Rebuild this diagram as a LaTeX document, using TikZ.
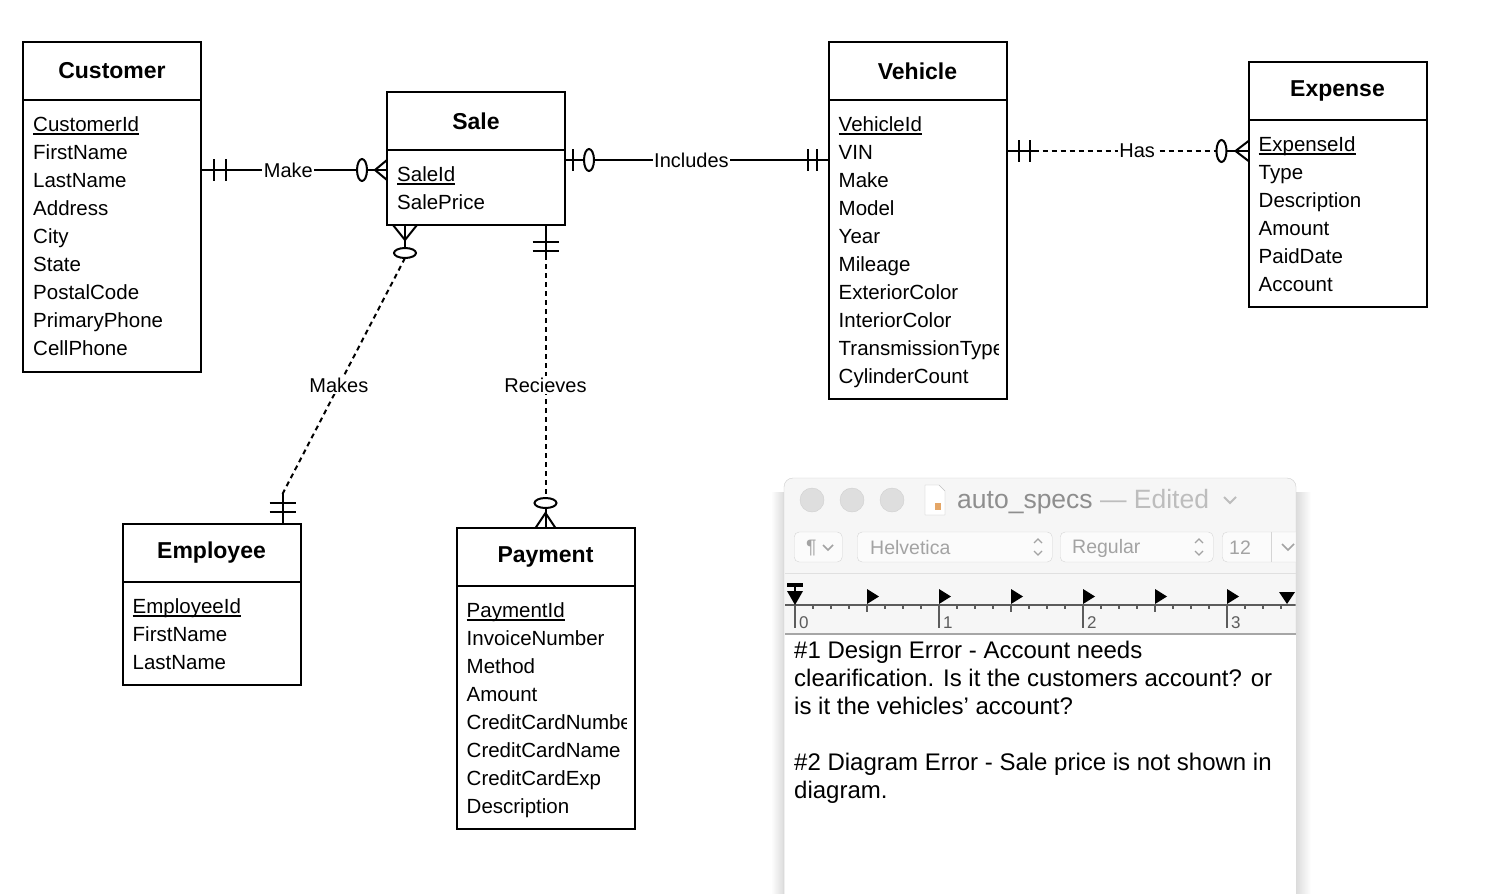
\documentclass[tikz,border=0pt]{standalone}
\usepackage{fontspec}
\setmainfont{Liberation Sans}
\usetikzlibrary{calc,positioning}

\definecolor{winbg}{HTML}{F6F6F6}
\definecolor{winedge}{HTML}{CDCDCD}
\definecolor{lightbtn}{HTML}{DEDEDE}
\definecolor{lightbtnedge}{HTML}{CFCFCF}
\definecolor{titlegray}{HTML}{8E8E8E}
\definecolor{editgray}{HTML}{BDBDBD}
\definecolor{tbgray}{HTML}{A3A3A3}
\definecolor{tbedge}{HTML}{D5D5D5}
\definecolor{rulergray}{HTML}{5C5C5C}

% primary key: underlined attribute
\newcommand\pkey[1]{\setbox0\hbox{#1}\rlap{\rule[-3pt]{\wd0}{1.5pt}}\box0}

\begin{document}
\begin{tikzpicture}[x=1pt, y=-1pt,
    ettl/.style={draw, line width=2pt, outer sep=0pt, minimum width=178pt, minimum height=58pt, inner sep=0pt, font=\fontsize{23}{27}\selectfont\bfseries},
    ebdy/.style={draw, line width=2pt, outer sep=0pt, minimum width=178pt, inner sep=0pt, anchor=north},
    attr/.style={anchor=north west, align=left, inner sep=0pt, font=\fontsize{20.5}{28}\selectfont},
    rel/.style={line width=2pt},
    reldash/.style={line width=2pt, dash pattern=on 5pt off 4pt},
    lbl/.style={fill=white, inner sep=1.5pt, font=\fontsize{20}{24}\selectfont},
    opt/.style={line width=2pt, fill=white},
    tlight/.style={circle, draw=lightbtnedge, fill=lightbtn, minimum size=24pt, inner sep=0pt},
    tbox/.style={draw=tbedge, fill=white!60!winbg, rounded corners=5pt, minimum height=30pt, inner sep=0pt, anchor=west},
    tbtxt/.style={text=tbgray, font=\fontsize{19.5}{22}\selectfont, inner sep=0pt, anchor=west}
]
\useasboundingbox (0,0) rectangle (1510,894);
\fill[white] (0,0) rectangle (1510,894);

% entities
\node[ettl] (cust) at (112,71) {Customer};
\node[ebdy, minimum height=272pt] (custb) at (cust.south) {};
\node[attr] (custa) at ($(custb.north west)+(10,12)$) {\strut\pkey{CustomerId}\\FirstName\\LastName\\Address\\City\\State\\PostalCode\\PrimaryPhone\\CellPhone};

\node[ettl] (sale) at (476,121) {Sale};
\node[ebdy, minimum height=75pt] (saleb) at (sale.south) {};
\node[attr] (salea) at ($(saleb.north west)+(10,12)$) {\strut\pkey{SaleId}\\SalePrice};

\node[ettl] (veh) at (917.5,71) {Vehicle};
\node[ebdy, minimum height=299pt] (vehb) at (veh.south) {};
\begin{scope}
  \clip ($(vehb.north west)+(2,2)$) rectangle ($(vehb.south east)+(-8,-2)$);
  \node[attr] (veha) at ($(vehb.north west)+(10,12)$) {\strut\pkey{VehicleId}\\VIN\\Make\\Model\\Year\\Mileage\\ExteriorColor\\InteriorColor\\TransmissionType\\CylinderCount};
\end{scope}

\node[ettl] (exp) at (1337.5,91) {Expense};
\node[ebdy, minimum height=187pt] (expb) at (exp.south) {};
\node[attr] (expa) at ($(expb.north west)+(10,12)$) {\strut\pkey{ExpenseId}\\Type\\Description\\Amount\\PaidDate\\Account};

\node[ettl] (emp) at (211.5,553) {Employee};
\node[ebdy, minimum height=103pt] (empb) at (emp.south) {};
\node[attr] (empa) at ($(empb.north west)+(10,12)$) {\strut\pkey{EmployeeId}\\FirstName\\LastName};

\node[ettl] (pay) at (545.5,557) {Payment};
\node[ebdy, minimum height=243pt] (payb) at (pay.south) {};
\begin{scope}
  \clip ($(payb.north west)+(2,2)$) rectangle ($(payb.south east)+(-8,-2)$);
  \node[attr] (paya) at ($(payb.north west)+(10,12)$) {\strut\pkey{PaymentId}\\InvoiceNumber\\Method\\Amount\\CreditCardNumber\\CreditCardName\\CreditCardExp\\Description};
\end{scope}

% Customer - Sale
\coordinate (mkA) at (custb.east |- 0,170);
\coordinate (mkB) at (saleb.west |- 0,170);
\draw[rel] (mkA) -- node[lbl, pos=0.47] {Make} (mkB);
\draw[rel] ($(mkA)+(13,-11)$) -- ++(0,22) ($(mkA)+(25,-11)$) -- ++(0,22);
\draw[opt] ($(mkB)+(-25,0)$) ellipse [x radius=5, y radius=11];
\draw[rel] ($(mkB)+(0,-10)$) -- ($(mkB)+(-12,0)$) -- ($(mkB)+(0,10)$);

% Sale - Vehicle
\coordinate (inA) at (saleb.east |- 0,160);
\coordinate (inB) at (vehb.west |- 0,160);
\draw[rel] (inA) -- node[lbl, pos=0.48] {Includes} (inB);
\draw[rel] ($(inA)+(8,-11)$) -- ++(0,22);
\draw[opt] ($(inA)+(24,0)$) ellipse [x radius=5, y radius=11];
\draw[rel] ($(inB)+(-21,-11)$) -- ++(0,22) ($(inB)+(-12,-11)$) -- ++(0,22);

% Vehicle - Expense
\coordinate (hsA) at (vehb.east |- 0,151);
\coordinate (hsB) at (expb.west |- 0,151);
\draw[reldash] (hsA) -- node[lbl, pos=0.54] {Has} (hsB);
\draw[rel] (hsA) -- ++(30,0) (hsB) -- ++(-32,0);
\draw[rel] ($(hsA)+(12,-11)$) -- ++(0,22) ($(hsA)+(23,-11)$) -- ++(0,22);
\draw[opt] ($(hsB)+(-27,0)$) ellipse [x radius=5, y radius=11];
\draw[rel] ($(hsB)+(0,-10)$) -- ($(hsB)+(-13,0)$) -- ($(hsB)+(0,10)$);

% Sale - Employee
\coordinate (mksA) at ($(saleb.south west)+(18,0)$);
\coordinate (mksB) at ($(emp.north west)+(160,0)$);
\draw[rel] (mksA) -- ++(0,28);
\draw[reldash] ($(mksA)+(0,33)$) -- node[lbl, pos=0.54] {Makes} ($(mksB)+(0,-30)$);
\draw[rel] (mksB) -- ++(0,-30);
\draw[rel] ($(mksA)+(-12,0)$) -- ($(mksA)+(0,15)$) -- ($(mksA)+(12,0)$);
\draw[opt] ($(mksA)+(0,28)$) ellipse [x radius=11, y radius=5];
\draw[rel] ($(mksB)+(-13,-21)$) -- ++(26,0) ($(mksB)+(-13,-12)$) -- ++(26,0);

% Sale - Payment
\coordinate (rcA) at (saleb.south -| pay.north);
\coordinate (rcB) at (pay.north);
\draw[reldash] ($(rcA)+(0,30)$) -- node[lbl, pos=0.535] {Recieves} ($(rcB)+(0,-30)$);
\draw[rel] (rcA) -- ++(0,34);
\draw[rel] ($(rcA)+(-13,17)$) -- ++(26,0) ($(rcA)+(-13,26)$) -- ++(26,0);
\draw[rel] (rcB) -- ++(0,-20);
\draw[opt] ($(rcB)+(0,-25)$) ellipse [x radius=11, y radius=5];
\draw[rel] ($(rcB)+(-10,0)$) -- ($(rcB)+(0,-15)$) -- ($(rcB)+(10,0)$);

% TextEdit window
\shade[left color=white, right color=black!14] (771,492) rectangle (784,900);
\shade[left color=black!14, right color=white] (1296,492) rectangle (1311,900);
\path[fill=winbg, draw=winedge, rounded corners=9pt] (784,900) -- (784,478) -- (1296,478) -- (1296,900);
\fill[white] (785,635) rectangle (1295.5,900);
\draw[black!35, line width=1.2pt] (785,634) -- (1295.5,634);
\draw[black!12] (785,573) -- (1295.5,573);

\node[tlight] (close) at (812,500) {};
\node[tlight] (mini) at (852,500) {};
\node[tlight] (full) at (892,500) {};
\draw[black!25, fill=white] (925,485) -- (939,485) -- (945,491) -- (945,515) -- (925,515) -- cycle;
\fill[brown!60!orange!70] (935,503) rectangle (941,510);
\node[anchor=west, inner sep=0pt, font=\fontsize{26.5}{30}\selectfont] (wtitle) at (957,502) {\color{titlegray}auto\_specs \color{editgray}— Edited};
\draw[editgray, line width=1.8pt] (1224,497) -- (1230,503) -- (1236,497);

\begin{scope}
  \clip (784,478) rectangle (1295.5,894);
  \node[tbox, minimum width=48pt] (parabox) at (794,547) {};
  \node[tbtxt] (para) at (806,548) {¶};
  \draw[tbgray, line width=1.5pt] (823,545) -- (828,550) -- (833,545);
  \node[tbox, minimum width=195pt] (fontbox) at (857,547) {};
  \node[tbtxt] (fontname) at (870,548) {Helvetica};
  \draw[tbgray, line width=1.3pt] (1034,543) -- (1038,539) -- (1042,543) (1034,551) -- (1038,555) -- (1042,551);
  \node[tbox, minimum width=153pt] (stylebox) at (1060,547) {};
  \node[tbtxt] (stylename) at (1072,548) {Regular};
  \draw[tbgray, line width=1.3pt] (1195,543) -- (1199,539) -- (1203,543) (1195,551) -- (1199,555) -- (1203,551);
  \node[tbox, minimum width=90pt] (sizebox) at (1222,547) {};
  \node[tbtxt] (sizeval) at (1229,548) {12};
  \draw[tbedge] (1271,532) -- (1271,562);
  \draw[tbgray, line width=1.5pt] (1282,544) -- (1288,550) -- (1294,544);

  % ruler
  \draw[rulergray, line width=1.5pt] (785,605) -- (1295.5,605);
  \foreach \k in {1,...,27} \draw[rulergray, line width=1.5pt] (795+18*\k,605) -- ++(0,4);
  \foreach \k in {0,1,2} \draw[rulergray, line width=1.5pt] (867+144*\k,605) -- ++(0,7);
  \foreach \k in {0,...,3} {
    \draw[rulergray, line width=1.5pt] (795+144*\k,605) -- ++(0,23);
    \node[anchor=base west, inner sep=0pt, text=rulergray, font=\fontsize{17}{20}\selectfont] (rn\k) at (799+144*\k,628) {\k};
  }
  \foreach \x in {867,939,1011,1083,1155,1227} \fill (\x,589) -- (\x,604) -- (\x+12,596.5) -- cycle;
  \fill (1279,592) -- (1295,592) -- (1287,604) -- cycle;
  \fill (787,583) rectangle (803,587);
  \draw[line width=2pt] (795,587) -- (795,592);
  \fill (787,591) -- (803,591) -- (795,605) -- cycle;
\end{scope}

\node[anchor=north west, align=left, inner sep=0pt, font=\fontsize{24}{28}\selectfont] (notes) at (794,639) {\strut\#1 Design Error - Account needs\\clearification. Is it the customers account? or\\is it the vehicles’ account?\\\mbox{}\\\#2 Diagram Error - Sale price is not shown in\\diagram.};
\end{tikzpicture}
\end{document}
